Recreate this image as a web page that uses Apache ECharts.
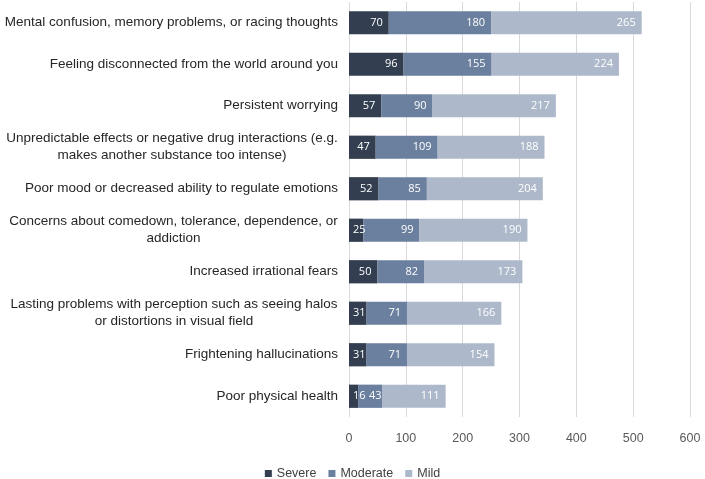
<!DOCTYPE html>
<html>
<head>
<meta charset="utf-8">
<script src="https://cdn.jsdelivr.net/npm/echarts@6/dist/echarts.min.js"></script>
<style>
  html, body { margin: 0; padding: 0; background: #fff; }
  #chart { width: 705px; height: 479px; }
</style>
</head>
<body>
<div id="chart"></div>
<script>
// categories, top to bottom as in the picture
var categories = [
    'Mental confusion, memory problems, or racing thoughts',
    'Feeling disconnected from the world around you',
    'Persistent worrying',
    'Unpredictable effects or negative drug interactions (e.g.\nmakes another substance too intense)',
    'Poor mood or decreased ability to regulate emotions',
    'Concerns about comedown, tolerance, dependence, or\naddiction',
    'Increased irrational fears',
    'Lasting problems with perception such as seeing halos\nor distortions in visual field',
    'Frightening hallucinations',
    'Poor physical health'
];
var severe   = [70, 96, 57, 47, 52, 25, 50, 31, 31, 16];
var moderate = [180, 155, 90, 109, 85, 99, 82, 71, 71, 43];
var mild     = [265, 224, 217, 188, 204, 190, 173, 166, 154, 111];
var xTicks = [0, 100, 200, 300, 400, 500, 600];

var catFont = '"Liberation Sans", Arial, sans-serif';
var catSize = 13.5;

// centre the lines of wrapped labels under each other
var ctx = document.createElement('canvas').getContext('2d');
ctx.font = catSize + 'px ' + catFont;
var rich = {};
var formatted = {};
categories.forEach(function (c, i) {
    var lines = c.split('\n');
    if (lines.length > 1) {
        var w = 0;
        lines.forEach(function (l) { w = Math.max(w, ctx.measureText(l).width); });
        rich['c' + i] = { width: Math.ceil(w), align: 'center', fontSize: catSize, color: '#262626',
            lineHeight: 17, fontFamily: catFont };
        formatted[c] = lines.map(function (l) { return '{c' + i + '|' + l + '}'; }).join('\n');
    } else {
        formatted[c] = c;
    }
});

var myChart = echarts.init(document.getElementById('chart'));

// short bars: the label does not fit, so it starts at the bar's left end
// prev = segment before this one; if it is very short, hug the right end
function barData(arr, prev) {
    return arr.map(function (v, i) {
        if (v < 35) {
            return { value: v, label: { position: 'insideLeft', distance: 4 } };
        }
        if (prev && prev[i] < 20) {
            return { value: v, label: { distance: 1 } };
        }
        return v;
    });
}

function barSeries(name, data, prev, color) {
    return {
        name: name,
        type: 'bar',
        stack: 'total',
        barWidth: '56%',
        data: barData(data, prev),
        itemStyle: { color: color },
        label: {
            show: true,
            position: 'insideRight',
            distance: 6,
            color: '#fff',
            fontSize: 11,
            fontFamily: '"Open Sans", sans-serif'
        }
    };
}

var option = {
    animation: false,
    grid: { left: 349, right: 15, top: 2, bottom: 62 },
    legend: {
        data: ['Severe', 'Moderate', 'Mild'],
        left: 'center',
        top: 462,
        icon: 'rect',
        itemWidth: 7,
        itemHeight: 7,
        itemGap: 12,
        textStyle: { color: '#404040', fontSize: 12.5, fontFamily: catFont }
    },
    xAxis: {
        type: 'value',
        min: xTicks[0],
        max: xTicks[xTicks.length - 1],
        interval: 100,
        axisLine: { show: false },
        axisTick: { show: false },
        axisLabel: { color: '#595959', fontSize: 12.5, margin: 15, fontFamily: catFont },
        splitLine: { lineStyle: { color: '#d9d9d9', width: 1 } }
    },
    yAxis: {
        type: 'category',
        inverse: true,
        data: categories,
        axisLine: { show: false },
        axisTick: { show: false },
        axisLabel: {
            color: '#262626',
            fontSize: catSize,
            lineHeight: 17,
            margin: 11,
            fontFamily: catFont,
            formatter: function (v) { return formatted[v]; },
            rich: rich
        }
    },
    series: [
        barSeries('Severe', severe, null, '#333f50'),
        barSeries('Moderate', moderate, severe, '#6b7f9e'),
        barSeries('Mild', mild, null, '#adb9ca')
    ]
};
myChart.setOption(option);
</script>
</body>
</html>
